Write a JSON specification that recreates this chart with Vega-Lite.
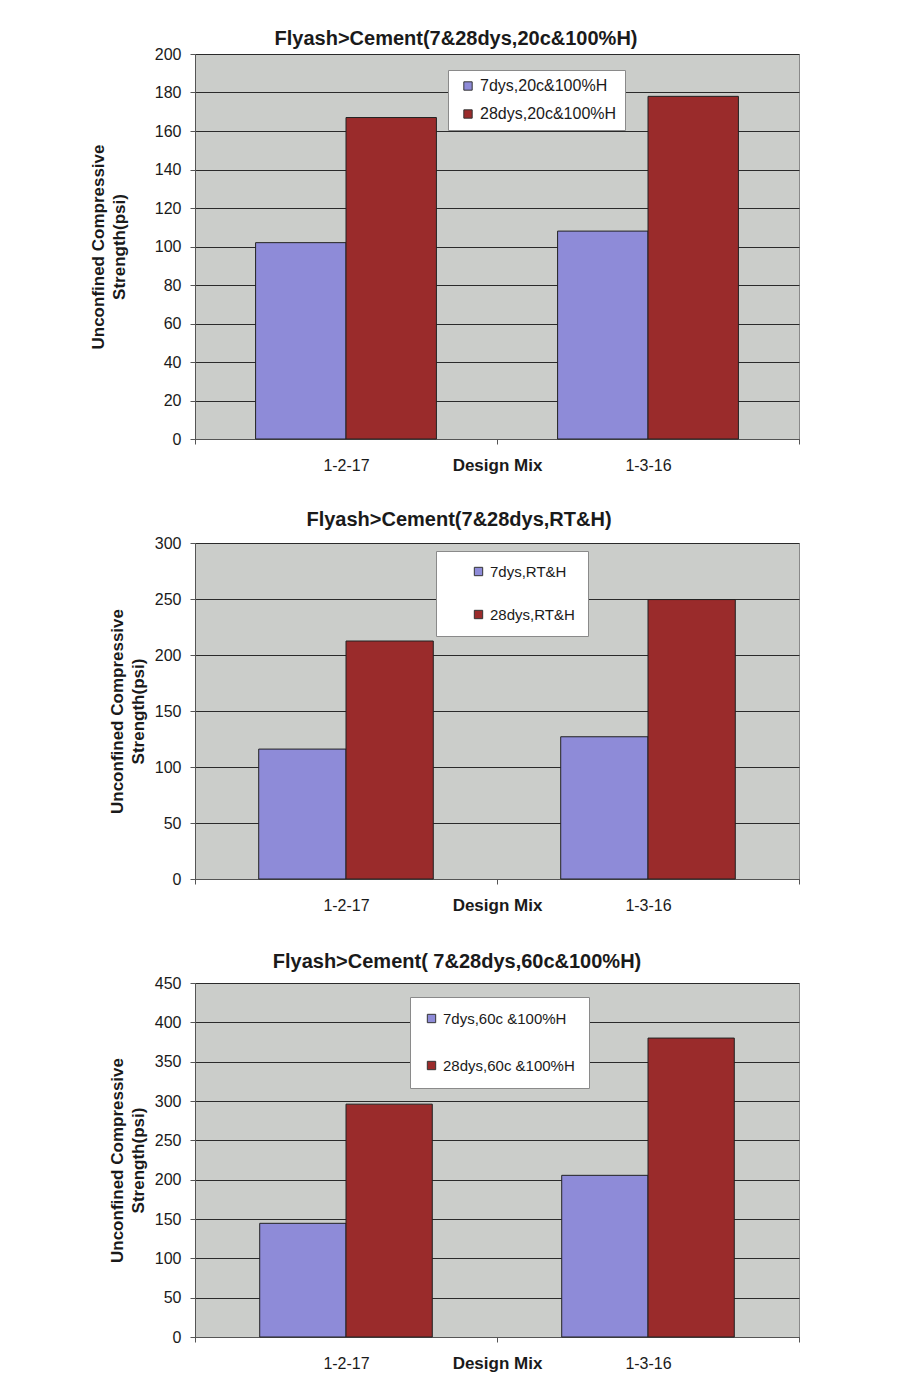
{
  "$schema": "https://vega.github.io/schema/vega-lite/v6.json",
  "background": "white",
  "padding": {"left": 88, "top": 28, "right": 10, "bottom": 10},
  "bounds": "flush",
  "spacing": 104,
  "resolve": {"scale": {"color": "independent", "xOffset": "independent", "y": "independent", "x": "independent"}, "legend": {"color": "independent"}},
  "config": {
    "font": "Liberation Sans",
    "view": {"fill": "#cbcdca", "stroke": "#8a8a8a", "strokeWidth": 1},
    "axis": {
      "domainColor": "#555555",
      "tickColor": "#555555",
      "tickSize": 5,
      "labelFont": "Liberation Sans",
      "labelFontSize": 16,
      "labelColor": "#1a1a1a",
      "titleFont": "Liberation Sans",
      "titleFontSize": 17,
      "titleFontWeight": "bold",
      "titleColor": "#1a1a1a",
      "gridColor": "#2a2a2a",
      "gridOpacity": 1,
      "gridWidth": 1
    },
    "legend": {
      "fillColor": "white",
      "strokeColor": "#8a8a8a",
      "symbolType": "square",
      "symbolSize": 70,
      "symbolStrokeColor": "#333333",
      "symbolStrokeWidth": 1,
      "labelFont": "Liberation Sans",
      "labelFontSize": 15,
      "labelColor": "#1a1a1a"
    },
    "title": {"font": "Liberation Sans", "fontSize": 20, "fontWeight": "bold", "color": "#1a1a1a", "anchor": "middle"}
  },
  "datasets": {
    "c1": [
      {"mix": "1-2-17", "series": "7dys,20c&100%H", "ucs": 102},
      {"mix": "1-2-17", "series": "28dys,20c&100%H", "ucs": 167},
      {"mix": "1-3-16", "series": "7dys,20c&100%H", "ucs": 108},
      {"mix": "1-3-16", "series": "28dys,20c&100%H", "ucs": 178}
    ],
    "c2": [
      {"mix": "1-2-17", "series": "7dys,RT&H", "ucs": 116},
      {"mix": "1-2-17", "series": "28dys,RT&H", "ucs": 212.5},
      {"mix": "1-3-16", "series": "7dys,RT&H", "ucs": 127},
      {"mix": "1-3-16", "series": "28dys,RT&H", "ucs": 249.5}
    ],
    "c3": [
      {"mix": "1-2-17", "series": "7dys,60c &100%H", "ucs": 144.5},
      {"mix": "1-2-17", "series": "28dys,60c &100%H", "ucs": 296},
      {"mix": "1-3-16", "series": "7dys,60c &100%H", "ucs": 205.5},
      {"mix": "1-3-16", "series": "28dys,60c &100%H", "ucs": 380}
    ]
  },
  "vconcat": [
    {
      "data": {"name": "c1"},
      "title": {"text": "Flyash>Cement(7&28dys,20c&100%H)", "offset": -3, "dx": -41},
      "width": 604,
      "height": 385,
      "mark": {"type": "bar", "stroke": "#222222", "strokeWidth": 1},
      "encoding": {
        "x": {"field": "mix", "type": "nominal", "sort": ["1-2-17", "1-3-16"],
              "scale": {"paddingInner": 0, "paddingOuter": 0},
              "axis": {"title": "Design Mix", "labelAngle": 0, "tickBand": "extent", "grid": false, "labelPadding": 13, "titleY": 18, "titleBaseline": "top"}},
        "xOffset": {"field": "series", "type": "nominal", "sort": ["7dys,20c&100%H", "28dys,20c&100%H"],
                    "scale": {"paddingInner": 0, "paddingOuter": 0.67}},
        "y": {"field": "ucs", "type": "quantitative",
              "scale": {"domain": [0, 200], "nice": false},
              "axis": {"values": [0, 20, 40, 60, 80, 100, 120, 140, 160, 180, 200], "title": ["Unconfined Compressive", "Strength(psi)"], "titleLineHeight": 21, "labelPadding": 9, "titlePadding": 26}},
        "color": {"field": "series", "type": "nominal", "sort": ["7dys,20c&100%H", "28dys,20c&100%H"],
                  "scale": {"range": ["#8e8bd8", "#9a2b2b"]},
                  "legend": {"title": null, "orient": "none", "legendX": 253, "legendY": 16, "padding": 8, "rowPadding": 12, "labelFontSize": 16, "symbolOffset": 4}}
      }
    },
    {
      "data": {"name": "c2"},
      "title": {"text": "Flyash>Cement(7&28dys,RT&H)", "offset": 5, "dx": -38},
      "width": 604,
      "height": 336,
      "mark": {"type": "bar", "stroke": "#222222", "strokeWidth": 1},
      "encoding": {
        "x": {"field": "mix", "type": "nominal", "sort": ["1-2-17", "1-3-16"],
              "scale": {"paddingInner": 0, "paddingOuter": 0},
              "axis": {"title": "Design Mix", "labelAngle": 0, "tickBand": "extent", "grid": false, "labelPadding": 13, "titleY": 18, "titleBaseline": "top"}},
        "xOffset": {"field": "series", "type": "nominal", "sort": ["7dys,RT&H", "28dys,RT&H"],
                    "scale": {"paddingInner": 0, "paddingOuter": 0.73}},
        "y": {"field": "ucs", "type": "quantitative",
              "scale": {"domain": [0, 300], "nice": false},
              "axis": {"values": [0, 50, 100, 150, 200, 250, 300], "title": ["Unconfined Compressive", "Strength(psi)"], "titleLineHeight": 21, "labelPadding": 9, "titlePadding": 7}},
        "color": {"field": "series", "type": "nominal", "sort": ["7dys,RT&H", "28dys,RT&H"],
                  "scale": {"range": ["#8e8bd8", "#9a2b2b"]},
                  "legend": {"title": null, "orient": "none", "legendX": 241, "legendY": 8, "padding": 13, "rowPadding": 27, "symbolOffset": 22}}
      }
    },
    {
      "data": {"name": "c3"},
      "title": {"text": "Flyash>Cement( 7&28dys,60c&100%H)", "offset": 3, "dx": -40},
      "width": 604,
      "height": 354,
      "mark": {"type": "bar", "stroke": "#222222", "strokeWidth": 1},
      "encoding": {
        "x": {"field": "mix", "type": "nominal", "sort": ["1-2-17", "1-3-16"],
              "scale": {"paddingInner": 0, "paddingOuter": 0},
              "axis": {"title": "Design Mix", "labelAngle": 0, "tickBand": "extent", "grid": false, "labelPadding": 13, "titleY": 18, "titleBaseline": "top"}},
        "xOffset": {"field": "series", "type": "nominal", "sort": ["7dys,60c &100%H", "28dys,60c &100%H"],
                    "scale": {"paddingInner": 0, "paddingOuter": 0.75}},
        "y": {"field": "ucs", "type": "quantitative",
              "scale": {"domain": [0, 450], "nice": false},
              "axis": {"values": [0, 50, 100, 150, 200, 250, 300, 350, 400, 450], "title": ["Unconfined Compressive", "Strength(psi)"], "titleLineHeight": 21, "labelPadding": 9, "titlePadding": 7}},
        "color": {"field": "series", "type": "nominal", "sort": ["7dys,60c &100%H", "28dys,60c &100%H"],
                  "scale": {"range": ["#8e8bd8", "#9a2b2b"]},
                  "legend": {"title": null, "orient": "none", "legendX": 215, "legendY": 14, "padding": 14, "rowPadding": 31}}
      }
    }
  ]
}
